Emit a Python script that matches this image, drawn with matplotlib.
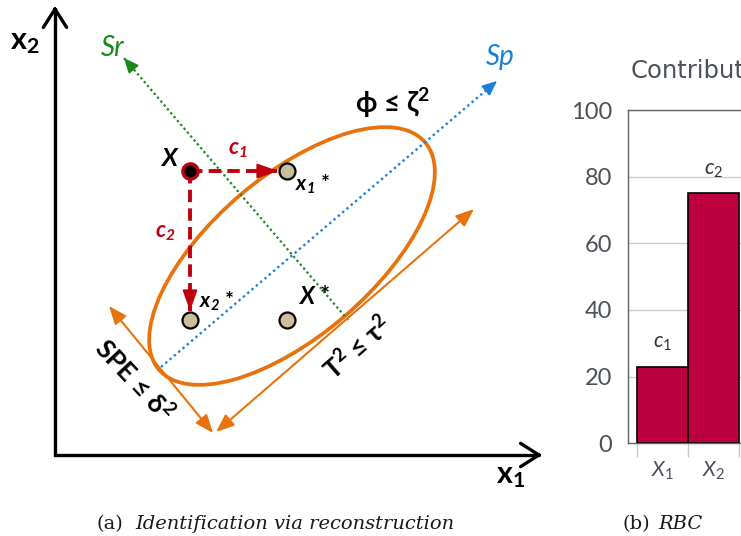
import numpy as np
import matplotlib
matplotlib.use("Agg")
import matplotlib.pyplot as plt
from matplotlib.patches import Ellipse

plt.rcParams.update({
    "font.family": ["Lato", "DejaVu Sans"],
    "mathtext.fontset": "custom",
    "mathtext.rm": "Lato",
    "mathtext.it": "Lato:italic",
    "mathtext.bf": "Lato:bold",
    "mathtext.bfit": "Lato:bold:italic",
    "mathtext.sf": "Lato",
})

# ---- (a) reconstruction-based identification (diagram units) ----
sample = (135, 284)          # faulty sample X
recon_x1 = (232, 284)        # reconstruction along x1
recon_x2 = (135, 135)        # reconstruction along x2
recon_all = (232, 135)       # full reconstruction X*
ellipse_center = (237, 199)
ellipse_semi_axes = (175, 80)
ellipse_angle = 40.5
sp_line = [(106, 88), (442, 374)]    # principal subspace
sr_line = [(293, 135), (69, 397)]    # residual subspace
spe_arrow = [(54, 149), (158, 22)]
t2_arrow = [(161, 23), (419, 246)]
axis_tips = [(0, 449), (487, 0)]

# ---- (b) reconstruction-based contributions ----
variables = [r"$X_1$", r"$X_2$"]
contributions = [23, 75]
contrib_labels = [r"$c_1$", r"$c_2$"]

ORANGE = "#e8730e"
RED = "#c0000e"
TAN = "#c9bf9d"
GREEN = "#1a881a"
BLUE = "#1c7fd6"
CRIMSON = "#bc0040"
GREY_TXT = "#4b5157"

fig = plt.figure(figsize=(7.41, 5.36), dpi=100)
ax = fig.add_axes([0, 0, 1, 1])
ax.set_xlim(-55, 686)
ax.set_ylim(-81, 455)
ax.axis("off")


def head(tip, toward, color, lw, style, scale):
    """Draw only an arrow head at `tip`, oriented from `toward`."""
    tip = np.asarray(tip, float)
    toward = np.asarray(toward, float)
    d = (tip - toward) / np.linalg.norm(tip - toward)
    ax.annotate("", xy=tip, xytext=tip - 6 * d,
                arrowprops=dict(arrowstyle=style, color=color, lw=lw,
                                shrinkA=0, shrinkB=0, mutation_scale=scale))


# coordinate axes
ax.plot([0, 0, axis_tips[1][0] - 2], [axis_tips[0][1] - 2, 0, 0], color="black",
        lw=2.4, solid_joinstyle="miter", solid_capstyle="butt")
head(axis_tips[0], (0, 0), "black", 2.4, "->,head_length=0.55,head_width=0.35", 24)
head(axis_tips[1], (0, 0), "black", 2.4, "->,head_length=0.55,head_width=0.35", 24)

# subspace directions
(x0, y0), (x1, y1) = sr_line
ax.plot([x0, x1], [y0, y1], color=GREEN, lw=1.6, ls=(0, (1, 1.3)))
head(sr_line[1], sr_line[0], GREEN, 1.2, "-|>,head_length=0.5,head_width=0.22", 18)
(x0, y0), (x1, y1) = sp_line
ax.plot([x0, x1], [y0, y1], color=BLUE, lw=1.7, ls=(0, (1, 1.4)))
head(sp_line[1], sp_line[0], BLUE, 1.2, "-|>,head_length=0.5,head_width=0.22", 18)

# control region
ax.add_patch(Ellipse(ellipse_center, 2 * ellipse_semi_axes[0], 2 * ellipse_semi_axes[1],
                     angle=ellipse_angle, fill=False, ec=ORANGE, lw=2.7))

# SPE and T2 limits
for a, b in (spe_arrow, t2_arrow):
    ax.annotate("", xy=b, xytext=a,
                arrowprops=dict(arrowstyle="<|-|>,head_length=0.55,head_width=0.22",
                                color=ORANGE, lw=1.5, shrinkA=0, shrinkB=0,
                                mutation_scale=20))

# reconstruction directions
tip1 = (recon_x1[0] - 9, recon_x1[1])
tip2 = (recon_x2[0], recon_x2[1] + 9)
for tip in (tip1, tip2):
    ax.plot([sample[0], tip[0]], [sample[1], tip[1]], color=RED, lw=2.8,
            dashes=(3.2, 1.6), solid_capstyle="butt", dash_capstyle="butt")
    head(tip, sample, RED, 1.5, "-|>,head_length=0.7,head_width=0.25", 18)

# points
for p in (recon_x1, recon_x2, recon_all):
    ax.plot(*p, "o", ms=11.5, mfc=TAN, mec="black", mew=1.6, zorder=5)
ax.plot(*sample, "o", ms=11, mfc="black", mec=RED, mew=2.4, zorder=5)

# labels
SUP2 = r"$^{\mathbf{2}}$"
ax.text(-30, 413, r"$\mathbf{x_2}$", fontsize=22, ha="center", va="center")
ax.text(456, -21, r"$\mathbf{x_1}$", fontsize=22, ha="center", va="center")
ax.text(58, 407, "Sr", color=GREEN, fontsize=20, style="italic", ha="center", va="center")
ax.text(445, 398, "Sp", color=BLUE, fontsize=20, style="italic", ha="center", va="center")
ax.text(115, 297, r"$\mathbfit{X}$", fontsize=18, ha="center", va="center")
ax.text(183, 305, r"$\mathbfit{c_1}$", color=RED, fontsize=16, ha="center", va="center")
ax.text(110, 222, r"$\mathbfit{c_2}$", color=RED, fontsize=16, ha="center", va="center")
ax.text(258, 271, r"$\mathbfit{x_1}$ *", fontsize=15, weight="bold", ha="center", va="center")
ax.text(162, 154, r"$\mathbfit{x_2}$ *", fontsize=15, weight="bold", ha="center", va="center")
ax.text(259, 159, r"$\mathbfit{X}$ *", fontsize=17, weight="bold", ha="center", va="center")
ax.text(337, 352, "\u03d5 \u2264 \u03b6" + SUP2, fontsize=20, weight="bold",
        ha="center", va="center")
ax.text(80, 76, "SPE \u2264 \u03b4" + SUP2, fontsize=19, weight="bold", rotation=-47,
        rotation_mode="anchor", ha="center", va="center")
ax.text(302, 108, "T" + SUP2 + " \u2264 \u03c4" + SUP2, fontsize=19, weight="bold",
        rotation=41, rotation_mode="anchor", ha="center", va="center")

# captions
cap = dict(family="DejaVu Serif", fontsize=14, va="baseline", color="#1a1a1a")
fig.text(97 / 741, 1 - 529 / 536, "(a)", **cap)
fig.text(135 / 741, 1 - 529 / 536, "Identification via reconstruction", style="italic", **cap)
fig.text(622 / 741, 1 - 529 / 536, "(b)", **cap)
fig.text(658 / 741, 1 - 529 / 536, "RBC", style="italic", **cap)

# ---- (b) contribution bar chart ----
bx = fig.add_axes([627.7 / 741, (536 - 443.3) / 536, 223 / 741, 333.3 / 536])
pos = np.arange(len(contributions))
bx.bar(pos, contributions, width=1.0, color=CRIMSON, edgecolor="black", lw=1.2, zorder=3)
for p, v, lab in zip(pos, contributions, contrib_labels):
    bx.text(p, v + 7, lab, ha="center", va="center", fontsize=15, color="#333333")
bx.set_xlim(-0.688, 3.688)
bx.set_ylim(0, 100)
bx.set_yticks([0, 20, 40, 60, 80, 100])
bx.yaxis.grid(True, color="#cccccc", lw=1)
bx.set_axisbelow(True)
bx.set_xticks(np.arange(-0.5, len(pos) + 0.5, 1))
bx.set_xticklabels([])
bx.set_xticks(pos, minor=True)
bx.set_xticklabels(variables, minor=True)
bx.tick_params(axis="y", length=0, pad=11, labelsize=17, labelcolor=GREY_TXT)
bx.tick_params(axis="x", which="major", length=10, color="#c8c8c8", width=1)
bx.tick_params(axis="x", which="minor", length=0, pad=12, labelsize=15, labelcolor=GREY_TXT)
for side in ("left", "top", "bottom"):
    bx.spines[side].set_color("#5e646a")
    bx.spines[side].set_linewidth(1.0)
bx.spines["right"].set_visible(False)
fig.text(631 / 741, 1 - 71 / 536, "Contribution", family="DejaVu Sans", fontsize=17.5,
         color=GREY_TXT, va="center", ha="left")

fig.savefig("out.png", dpi=100)
